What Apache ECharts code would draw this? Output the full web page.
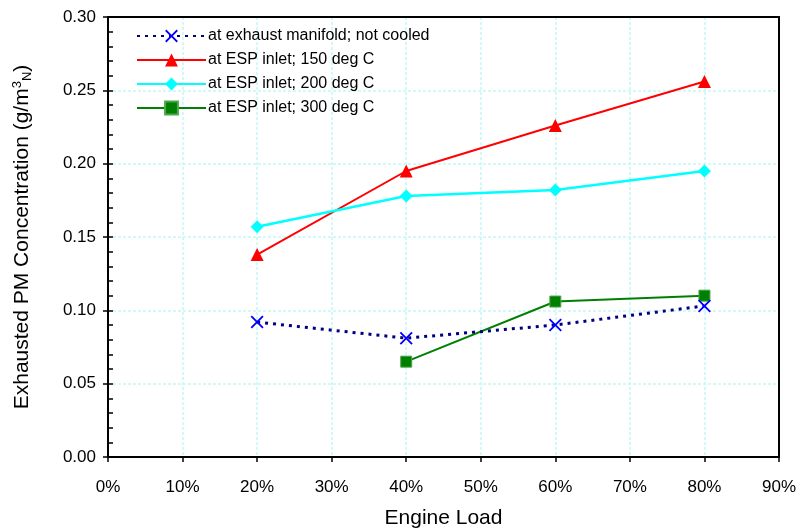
<!DOCTYPE html>
<html><head><meta charset="utf-8">
<script src="https://cdn.jsdelivr.net/npm/echarts@6/dist/echarts.min.js"></script>
<style>html,body{margin:0;padding:0;background:#fff}#c{width:798px;height:529px}</style>
</head><body><div id="c"></div>
<script>
const loads = [20, 40, 60, 80];
const seriesNames = ['at exhaust manifold; not cooled', 'at ESP inlet; 150 deg C', 'at ESP inlet; 200 deg C', 'at ESP inlet; 300 deg C'];
const exhaustNotCooled = [0.092, 0.081, 0.090, 0.103];
const esp150 = [0.138, 0.195, 0.226, 0.256];
const esp200 = [0.157, 0.178, 0.182, 0.195];
const esp300 = [null, 0.065, 0.106, 0.110];
const xTicks = [0, 10, 20, 30, 40, 50, 60, 70, 80, 90];
const yTicks = [0, 0.05, 0.10, 0.15, 0.20, 0.25, 0.30];

const font = 'Liberation Sans, Arial, sans-serif';
const xSym = 'path://M0,1L1,0L5,4L9,0L10,1L6,5L10,9L9,10L5,6L1,10L0,9L4,5Z';
function pts(vals){ return loads.map((x,i)=>[x, vals[i]]); }

const chart = echarts.init(document.getElementById('c'));
const xBase = {type:'value', min:xTicks[0], max:xTicks[xTicks.length-1], interval:10};
const yBase = {type:'value', min:yTicks[0], max:yTicks[yTicks.length-1], interval:0.05};
const gridLine = {show:true, lineStyle:{color:'#c4f6f6', width:1.5, type:[3,2]}};
chart.setOption({
  animation:false,
  backgroundColor:'#fff',
  grid:{left:108, right:19, top:17, bottom:72, show:false, containLabel:false, outerBoundsMode:'none'},
  legend:{
    orient:'vertical', left:131, top:23, itemWidth:69, itemHeight:16, itemGap:8,
    textStyle:{fontFamily:font, fontSize:16, color:'#000', padding:[0,0,0,-3]},
    data:seriesNames
  },
  xAxis:[
    Object.assign({}, xBase, {
      position:'bottom',
      name:'Engine Load', nameLocation:'middle', nameGap:51,
      nameTextStyle:{fontFamily:font, fontSize:21, color:'#000'},
      axisLine:{show:true, onZero:false, lineStyle:{color:'#000', width:2}},
      axisTick:{show:true, inside:false, length:5, lineStyle:{color:'#000', width:1.5}},
      axisLabel:{margin:22, fontFamily:font, fontSize:17, color:'#000', formatter:v=>v+'%'},
      splitLine:gridLine
    }),
    Object.assign({}, xBase, {
      position:'top',
      axisLine:{show:true, onZero:false, lineStyle:{color:'#000', width:2}},
      axisTick:{show:false}, axisLabel:{show:false}, splitLine:{show:false}
    })
  ],
  yAxis:[
    Object.assign({}, yBase, {
      position:'left',
      name:'{n|Exhausted PM Concentration (g/m}{sup|3}{sub|N}{n|)}', nameLocation:'middle', nameGap:74,
      nameTextStyle:{fontFamily:font, fontSize:21, color:'#000',
        rich:{n:{fontFamily:font, fontSize:21, color:'#000'},
              sup:{fontFamily:font, fontSize:13, color:'#000', verticalAlign:'top', padding:[0,0,10,0]},
              sub:{fontFamily:font, fontSize:13, color:'#000', verticalAlign:'bottom', padding:[10,0,0,0]}}},
      axisLine:{show:true, onZero:false, lineStyle:{color:'#000', width:2}},
      axisTick:{show:true, inside:false, length:5, lineStyle:{color:'#000', width:1.5}},
      axisLabel:{margin:12, fontFamily:font, fontSize:17, color:'#000', formatter:v=>v.toFixed(2)},
      splitLine:gridLine
    }),
    Object.assign({}, yBase, {
      position:'left',
      axisLine:{show:false},
      axisTick:{show:true, inside:true, length:5, lineStyle:{color:'#000', width:1.5}},
      minorTick:{show:true, splitNumber:5, length:5, lineStyle:{color:'#000', width:1.5}},
      axisLabel:{show:false},
      splitLine:{show:false}
    }),
    Object.assign({}, yBase, {
      position:'right',
      axisLine:{show:true, onZero:false, lineStyle:{color:'#000', width:2}},
      axisTick:{show:false}, axisLabel:{show:false}, splitLine:{show:false}
    })
  ],
  series:[
    {name:seriesNames[0], type:'line', data:pts(exhaustNotCooled), symbol:xSym, symbolSize:13,
     lineStyle:{color:'#000080', width:3, type:[3,5]}, itemStyle:{color:'#0000ff'}, z:5},
    {name:seriesNames[1], type:'line', data:pts(esp150), symbol:'triangle', symbolSize:13,
     lineStyle:{color:'#ff0000', width:2}, itemStyle:{color:'#ff0000'}},
    {name:seriesNames[2], type:'line', data:pts(esp200), symbol:'diamond', symbolSize:13,
     lineStyle:{color:'#00ffff', width:2.5}, itemStyle:{color:'#00ffff'}},
    {name:seriesNames[3], type:'line', data:pts(esp300), symbol:'rect', symbolSize:11,
     lineStyle:{color:'#008000', width:2}, itemStyle:{color:'#008000', borderColor:'#4ca64c', borderWidth:1}}
  ]
});
</script></body></html>
